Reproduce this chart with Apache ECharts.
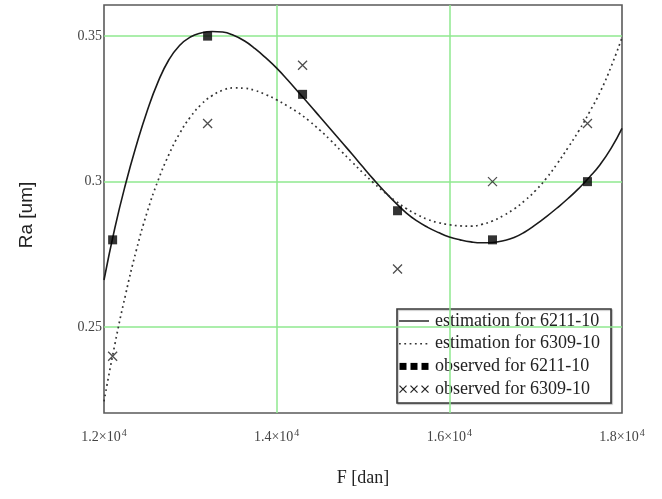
<!DOCTYPE html>
<html>
<head>
<meta charset="utf-8">
<title>Ra vs F</title>
<script src="https://cdn.jsdelivr.net/npm/echarts@6/dist/echarts.min.js"></script>
<style>
  html, body { margin: 0; padding: 0; background: #ffffff; }
  #chart { width: 662px; height: 499px; }
</style>
</head>
<body>
<div id="chart"></div>
<script>
// Load levels F [dan] at which the estimation curves are tabulated
const fitLoads = [12000, 12125, 12250, 12375, 12500, 12625, 12750, 12875, 13000,
  13125, 13250, 13375, 13500, 13625, 13750, 13875, 14000, 14125, 14250, 14375,
  14500, 14625, 14750, 14875, 15000, 15125, 15250, 15375, 15500, 15625, 15750,
  15875, 16000, 16125, 16250, 16375, 16500, 16625, 16750, 16875, 17000, 17125,
  17250, 17375, 17500, 17625, 17750, 17875, 18000];

// Estimated roughness Ra [um] for bearing 6211-10
const fit6211 = [0.2662, 0.2840, 0.2992, 0.3125, 0.3243, 0.3342, 0.3418, 0.3468, 0.3497,
  0.3511, 0.3516, 0.3514, 0.3503, 0.3484, 0.3457, 0.3425, 0.3390, 0.3350, 0.3308, 0.3266,
  0.3223, 0.3180, 0.3137, 0.3094, 0.3050, 0.3007, 0.2966, 0.2928, 0.2893, 0.2865, 0.2843,
  0.2825, 0.2810, 0.2800, 0.2793, 0.2790, 0.2791, 0.2797, 0.2808, 0.2827, 0.2852, 0.2880,
  0.2910, 0.2942, 0.2977, 0.3016, 0.3060, 0.3115, 0.3183];

// Estimated roughness Ra [um] for bearing 6309-10
const fit6309 = [0.2245, 0.2440, 0.2612, 0.2765, 0.2895, 0.3003, 0.3092, 0.3165, 0.3222,
  0.3265, 0.3295, 0.3314, 0.3322, 0.3321, 0.3313, 0.3299, 0.3281, 0.3260, 0.3237, 0.3209,
  0.3177, 0.3142, 0.3104, 0.3067, 0.3030, 0.2995, 0.2963, 0.2934, 0.2908, 0.2887, 0.2870,
  0.2859, 0.2852, 0.2848, 0.2847, 0.2853, 0.2865, 0.2883, 0.2906, 0.2935, 0.2970, 0.3012,
  0.3062, 0.3117, 0.3175, 0.3240, 0.3310, 0.3396, 0.3495];

// Measured points
const obsLoads = [12100, 13200, 14300, 15400, 16500, 17600];
const obs6211 = [0.28, 0.35, 0.33, 0.29, 0.28, 0.30];
const obs6309 = [0.24, 0.32, 0.34, 0.27, 0.30, 0.32];

// Axis ranges and ticks
const xTicks = [12000, 14000, 16000, 18000];
const yRange = [0.2205, 0.3607];

const legendNames = ['estimation for 6211-10', 'estimation for 6309-10',
  'observed for 6211-10', 'observed for 6309-10'];

const pairs = (xs, ys) => xs.map((x, i) => [x, ys[i]]);

const SERIF = '"Liberation Serif", "Times New Roman", serif';
const SANS = '"Liberation Sans", Arial, sans-serif';
const GRID_GREEN = '#8fe98f';
const CROSS = 'path://M0,0L10,10M10,0L0,10';

const chart = echarts.init(document.getElementById('chart'), null, { renderer: 'canvas' });

// Hand-drawn legend box in the lower right of the plot
const lx = 397, ly = 309, lw = 214, lh = 94, rowH = 22.7, row0 = 321;
const legendChildren = [
  { type: 'rect', shape: { x: lx, y: ly, width: lw, height: lh },
    style: { fill: '#ffffff', stroke: '#3a3a3a', lineWidth: 1.6,
      shadowColor: 'rgba(0,0,0,0.25)', shadowOffsetX: 1, shadowOffsetY: 1, shadowBlur: 1 } },
  { type: 'line', shape: { x1: lx + 2, y1: row0, x2: lx + 32, y2: row0 },
    style: { stroke: '#1a1a1a', lineWidth: 1.4 } },
  { type: 'line', shape: { x1: lx + 2, y1: row0 + rowH, x2: lx + 32, y2: row0 + rowH },
    style: { stroke: '#333', lineWidth: 1.4, lineDash: [1.8, 3.5] } }
];
[0, 1, 2].forEach(k => {
  const cx = lx + 6 + k * 11;
  legendChildren.push({ type: 'rect',
    shape: { x: cx - 3.5, y: row0 + 2 * rowH - 3.5, width: 7, height: 7 },
    style: { fill: '#000' } });
  const cy = row0 + 3 * rowH;
  legendChildren.push({ type: 'polyline',
    shape: { points: [[cx - 3.5, cy - 3.5], [cx + 3.5, cy + 3.5]] },
    style: { stroke: '#222', lineWidth: 1.2, fill: null } });
  legendChildren.push({ type: 'polyline',
    shape: { points: [[cx + 3.5, cy - 3.5], [cx - 3.5, cy + 3.5]] },
    style: { stroke: '#222', lineWidth: 1.2, fill: null } });
});
legendNames.forEach((name, k) => {
  legendChildren.push({ type: 'text', x: lx + 38, y: row0 + k * rowH,
    style: { text: name, font: '18px ' + SERIF, fill: '#222',
      textVerticalAlign: 'middle', verticalAlign: 'middle' } });
});

const option = {
  backgroundColor: '#ffffff',
  animation: false,
  grid: {
    left: 104, right: 40, top: 5, bottom: 86,
    containLabel: false, outerBoundsMode: 'none',
    show: true, borderColor: '#5a5a5a', borderWidth: 1.6, backgroundColor: 'transparent'
  },
  xAxis: {
    type: 'value', min: xTicks[0], max: xTicks[xTicks.length - 1], interval: 2000,
    name: 'F [dan]', nameLocation: 'middle', nameGap: 56,
    nameTextStyle: { fontFamily: SERIF, fontSize: 18, color: '#222' },
    axisLine: { show: false }, axisTick: { show: false },
    splitLine: { show: true, showMinLine: false, showMaxLine: false,
      lineStyle: { color: GRID_GREEN, width: 1.5 } },
    axisLabel: {
      margin: 15,
      formatter: v => '{m|' + (v / 10000).toFixed(1) + '×10}{e|4}',
      rich: {
        m: { fontFamily: SERIF, fontSize: 14, color: '#444' },
        e: { fontFamily: SERIF, fontSize: 10, color: '#444', padding: [0, 0, 9, 1] }
      }
    }
  },
  yAxis: {
    type: 'value', min: yRange[0], max: yRange[1], splitNumber: 3,
    name: 'Ra [um]', nameLocation: 'middle', nameGap: 68, nameRotate: 90,
    nameTextStyle: { fontFamily: SANS, fontSize: 19, color: '#222', padding: [0, 12, 0, 0] },
    axisLine: { show: false }, axisTick: { show: false },
    splitLine: { show: true, showMinLine: false, showMaxLine: false,
      lineStyle: { color: GRID_GREEN, width: 1.5 } },
    axisLabel: {
      margin: 2, showMinLabel: false, showMaxLabel: false,
      fontFamily: SERIF, fontSize: 14, color: '#444',
      formatter: v => String(+v.toFixed(2))
    }
  },
  graphic: [{ type: 'group', z: 100, children: legendChildren }],
  series: [
    {
      name: legendNames[0], type: 'line', smooth: true, showSymbol: false,
      data: pairs(fitLoads, fit6211), z: 3,
      lineStyle: { color: '#1a1a1a', width: 1.6 }
    },
    {
      name: legendNames[1], type: 'line', smooth: true, showSymbol: false,
      data: pairs(fitLoads, fit6309), z: 3,
      lineStyle: { color: '#333333', width: 1.7, type: [1.8, 3.5] }
    },
    {
      name: legendNames[2], type: 'scatter', symbol: 'rect', symbolSize: 9,
      data: pairs(obsLoads, obs6211), z: 5,
      itemStyle: { color: '#000000' }
    },
    {
      name: legendNames[3], type: 'scatter', symbol: CROSS, symbolSize: 9,
      data: pairs(obsLoads, obs6309), z: 5,
      itemStyle: { color: 'none', borderColor: '#222222', borderWidth: 1.3 }
    }
  ]
};

chart.setOption(option);
</script>
</body>
</html>
